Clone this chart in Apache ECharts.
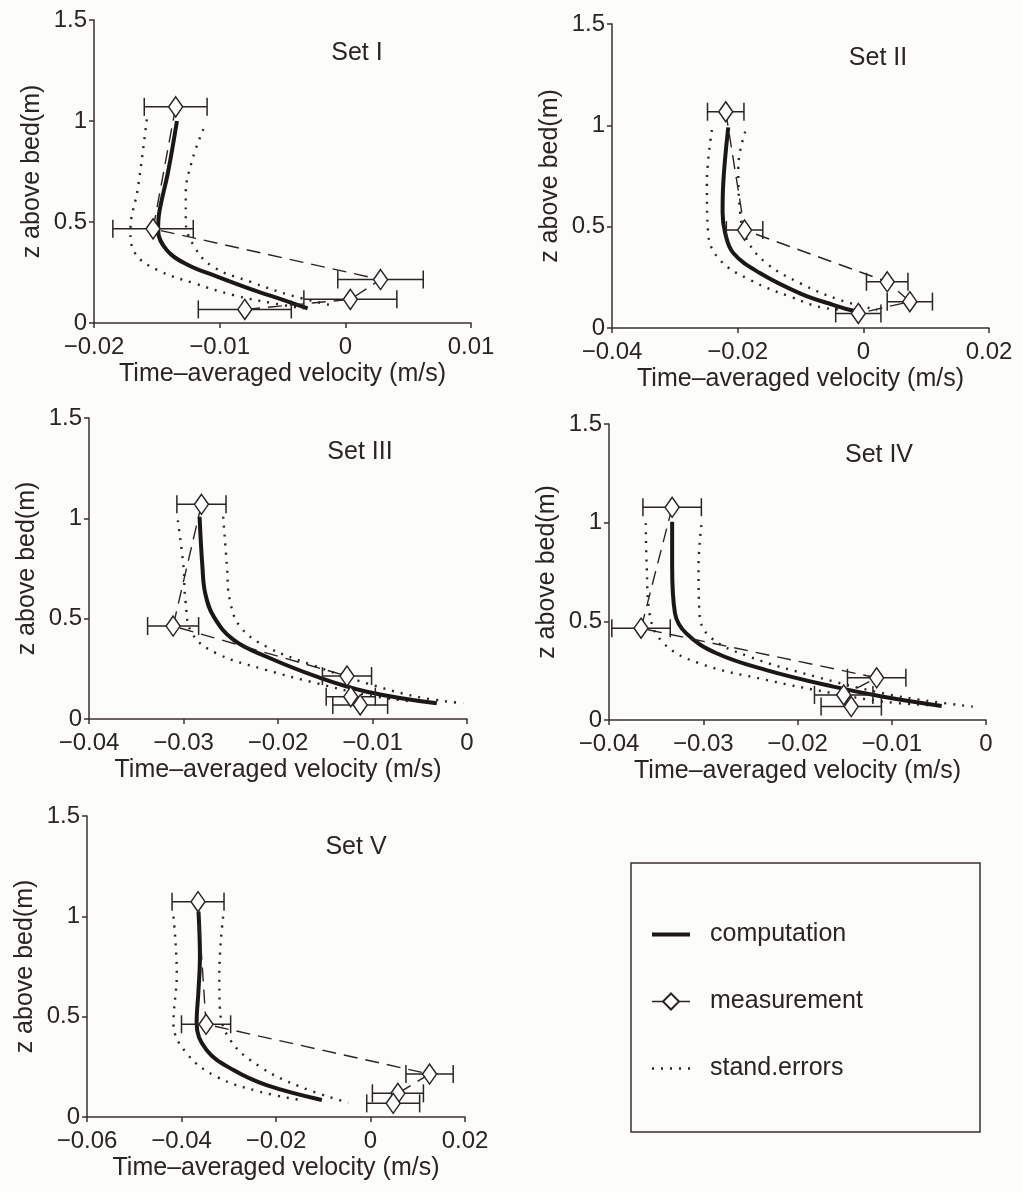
<!DOCTYPE html>
<html>
<head>
<meta charset="utf-8">
<title>Velocity profiles</title>
<script src="https://cdn.jsdelivr.net/npm/echarts@6.0.0/dist/echarts.min.js"></script>
<style>
  html, body { margin: 0; padding: 0; background: #fcfcfa; }
  #chart { width: 1023px; height: 1192px; }
</style>
</head>
<body>
<div id="chart"></div>
<script>
// values, each point is [velocity (m/s), z above bed (m)]
const zTicks = [0, 0.5, 1, 1.5];

// Set I
const set1Ticks = [-0.02, -0.01, 0, 0.01];
const set1Meas = [[-0.0135, 1.07], [-0.0153, 0.466], [0.0028, 0.215], [0.0004, 0.117], [-0.0080, 0.067]];
const set1Err = [0.0025, 0.0032, 0.0034, 0.0037, 0.0037];
const set1Comp = [[-0.0134, 1.0], [-0.0141, 0.75], [-0.0148, 0.55], [-0.0149, 0.46], [-0.0142, 0.36], [-0.0126, 0.29], [-0.0102, 0.23], [-0.0073, 0.163], [-0.0049, 0.113], [-0.0030, 0.072]];
const set1Lower = [[-0.0158, 1.008], [-0.0165, 0.671], [-0.0171, 0.458], [-0.0167, 0.343], [-0.0149, 0.261], [-0.0120, 0.196], [-0.0089, 0.138], [-0.0057, 0.097], [-0.0033, 0.072]];
const set1Upper = [[-0.0113, 0.96], [-0.0122, 0.803], [-0.0127, 0.639], [-0.0127, 0.507], [-0.0120, 0.376], [-0.0105, 0.277], [-0.0075, 0.203], [-0.0044, 0.138], [-0.0012, 0.089]];

// Set II
const set2Ticks = [-0.04, -0.02, 0, 0.02];
const set2Meas = [[-0.0219, 1.067], [-0.0189, 0.483], [0.0038, 0.228], [0.0074, 0.130], [-0.0008, 0.072]];
const set2Err = [0.0029, 0.0029, 0.0033, 0.0036, 0.0036];
const set2Comp = [[-0.0215, 0.99], [-0.0223, 0.71], [-0.0224, 0.57], [-0.0220, 0.47], [-0.0207, 0.37], [-0.0164, 0.27], [-0.0100, 0.17], [-0.0047, 0.113], [-0.0010, 0.080]];
const set2Lower = [[-0.0241, 0.977], [-0.0249, 0.714], [-0.0247, 0.467], [-0.0228, 0.335], [-0.0180, 0.237], [-0.0116, 0.154], [-0.0058, 0.097], [-0.0005, 0.088]];
const set2Upper = [[-0.0188, 0.969], [-0.0199, 0.796], [-0.0196, 0.566], [-0.0185, 0.434], [-0.0154, 0.319], [-0.0100, 0.22], [-0.0037, 0.138], [0.0022, 0.089]];

// Set III
const set3Ticks = [-0.04, -0.03, -0.02, -0.01, 0];
const set3Meas = [[-0.0281, 1.070], [-0.0311, 0.463], [-0.0127, 0.214], [-0.0123, 0.111], [-0.0113, 0.070]];
const set3Err = [0.0026, 0.0027, 0.0026, 0.0026, 0.0029];
const set3Comp = [[-0.0283, 1.008], [-0.0280, 0.76], [-0.0277, 0.626], [-0.0268, 0.51], [-0.0247, 0.394], [-0.0212, 0.31], [-0.0159, 0.211], [-0.0106, 0.136], [-0.0032, 0.078]];
const set3Lower = [[-0.0306, 0.99], [-0.0300, 0.76], [-0.0298, 0.593], [-0.0291, 0.427], [-0.0265, 0.327], [-0.0212, 0.244], [-0.0159, 0.178], [-0.0106, 0.12], [-0.0057, 0.086]];
const set3Upper = [[-0.0258, 1.008], [-0.0254, 0.759], [-0.0251, 0.593], [-0.0240, 0.46], [-0.0212, 0.36], [-0.0159, 0.261], [-0.0106, 0.178], [-0.0053, 0.111], [-0.0004, 0.078]];

// Set IV
const set4Ticks = [-0.04, -0.03, -0.02, -0.01, 0];
const set4Meas = [[-0.0333, 1.078], [-0.0366, 0.465], [-0.0116, 0.214], [-0.0151, 0.127], [-0.0143, 0.068]];
const set4Err = [0.0031, 0.0031, 0.0031, 0.0031, 0.0032];
const set4Comp = [[-0.0333, 1.005], [-0.0333, 0.777], [-0.0330, 0.541], [-0.0318, 0.439], [-0.0286, 0.338], [-0.0233, 0.253], [-0.0162, 0.169], [-0.0109, 0.118], [-0.0047, 0.071]];
const set4Lower = [[-0.0361, 0.997], [-0.0360, 0.777], [-0.0357, 0.541], [-0.0342, 0.389], [-0.0304, 0.287], [-0.0233, 0.203], [-0.0162, 0.135], [-0.0109, 0.093], [-0.0060, 0.075]];
const set4Upper = [[-0.0302, 0.988], [-0.0305, 0.777], [-0.0304, 0.541], [-0.0293, 0.422], [-0.0251, 0.321], [-0.0180, 0.219], [-0.0109, 0.135], [-0.0056, 0.093], [-0.0014, 0.068]];

// Set V
const set5Ticks = [-0.06, -0.04, -0.02, 0, 0.02];
const set5Meas = [[-0.0365, 1.073], [-0.0348, 0.462], [0.0125, 0.214], [0.0058, 0.118], [0.0048, 0.068]];
const set5Err = [0.0055, 0.0052, 0.0050, 0.0054, 0.0056];
const set5Comp = [[-0.0364, 1.023], [-0.0361, 0.80], [-0.0364, 0.633], [-0.0368, 0.467], [-0.0347, 0.334], [-0.0290, 0.234], [-0.0220, 0.159], [-0.0103, 0.085]];
const set5Lower = [[-0.0417, 0.998], [-0.0410, 0.716], [-0.0417, 0.467], [-0.0389, 0.317], [-0.0326, 0.201], [-0.0234, 0.126], [-0.0149, 0.085]];
const set5Upper = [[-0.0312, 0.998], [-0.0320, 0.716], [-0.0319, 0.55], [-0.0297, 0.384], [-0.0234, 0.251], [-0.0149, 0.151], [-0.0047, 0.071]];

const ink = '#2a2424';
const axisInk = '#3a302d';
const font = 'Liberation Sans, Arial, sans-serif';

const panels = [
  { title: 'Set I',   ticks: set1Ticks, meas: set1Meas, err: set1Err, comp: set1Comp, lower: set1Lower, upper: set1Upper,
    grid: { left: 94, top: 20, width: 377, height: 303 }, titlePos: [357, 53] },
  { title: 'Set II',  ticks: set2Ticks, meas: set2Meas, err: set2Err, comp: set2Comp, lower: set2Lower, upper: set2Upper,
    grid: { left: 612, top: 24, width: 377, height: 304 }, titlePos: [878, 58] },
  { title: 'Set III', ticks: set3Ticks, meas: set3Meas, err: set3Err, comp: set3Comp, lower: set3Lower, upper: set3Upper,
    grid: { left: 89, top: 418, width: 378, height: 301 }, titlePos: [360, 452] },
  { title: 'Set IV',  ticks: set4Ticks, meas: set4Meas, err: set4Err, comp: set4Comp, lower: set4Lower, upper: set4Upper,
    grid: { left: 609, top: 424, width: 377, height: 296 }, titlePos: [879, 455] },
  { title: 'Set V',   ticks: set5Ticks, meas: set5Meas, err: set5Err, comp: set5Comp, lower: set5Lower, upper: set5Upper,
    grid: { left: 87, top: 816, width: 378, height: 301 }, titlePos: [356, 847] }
];

function fmtTick(v) {
  if (Math.abs(v) < 1e-9) return '0';
  return String(+v.toFixed(2)).replace('-', '\u2212');
}

// horizontal error bar with end caps
function renderErrorBar(params, api) {
  const v = api.value(0), z = api.value(1), e = api.value(2);
  const lo = api.coord([v - e, z]);
  const hi = api.coord([v + e, z]);
  const h = 9;
  const style = { stroke: ink, lineWidth: 1.5 };
  return {
    type: 'group',
    children: [
      { type: 'line', shape: { x1: lo[0], y1: lo[1], x2: hi[0], y2: hi[1] }, style: style },
      { type: 'line', shape: { x1: lo[0], y1: lo[1] - h, x2: lo[0], y2: lo[1] + h }, style: style },
      { type: 'line', shape: { x1: hi[0], y1: hi[1] - h, x2: hi[0], y2: hi[1] + h }, style: style }
    ]
  };
}

const grids = [], xAxes = [], yAxes = [], series = [], graphics = [];

panels.forEach(function (p, i) {
  grids.push(p.grid);
  const step = +(p.ticks[1] - p.ticks[0]).toFixed(4);
  xAxes.push({
    type: 'value', gridIndex: i,
    min: p.ticks[0], max: p.ticks[p.ticks.length - 1], interval: step,
    name: 'Time\u2013averaged velocity (m/s)', nameLocation: 'middle', nameGap: 39,
    nameTextStyle: { fontSize: 25, color: ink, fontFamily: font },
    axisLine: { onZero: false, lineStyle: { color: axisInk, width: 1.5 } },
    axisTick: { length: 5, lineStyle: { color: axisInk, width: 1.5 } },
    axisLabel: { fontSize: 24, color: ink, fontFamily: font, margin: 12, formatter: fmtTick },
    splitLine: { show: false }
  });
  yAxes.push({
    type: 'value', gridIndex: i,
    min: zTicks[0], max: zTicks[zTicks.length - 1], interval: zTicks[1] - zTicks[0],
    name: 'z above bed(m)', nameLocation: 'middle', nameGap: 49,
    nameTextStyle: { fontSize: 25, color: ink, fontFamily: font },
    axisLine: { onZero: false, lineStyle: { color: axisInk, width: 1.5 } },
    axisTick: { length: 5, lineStyle: { color: axisInk, width: 1.5 } },
    axisLabel: { fontSize: 24, color: ink, fontFamily: font, margin: 7, formatter: function (v) { return String(v); } },
    splitLine: { show: false }
  });

  [p.lower, p.upper].forEach(function (band) {
    series.push({
      type: 'line', name: 'stand.errors', xAxisIndex: i, yAxisIndex: i,
      data: band, symbol: 'none', smooth: 0.4, z: 2,
      itemStyle: { color: ink },
      lineStyle: { color: ink, width: 2.4, type: [2, 7] }
    });
  });

  series.push({
    type: 'line', name: 'computation', xAxisIndex: i, yAxisIndex: i,
    data: p.comp, symbol: 'none', smooth: 0.4, z: 3,
    itemStyle: { color: '#1b1717' },
    lineStyle: { color: '#1b1717', width: 4 }
  });

  series.push({
    type: 'custom', name: 'error bars', xAxisIndex: i, yAxisIndex: i,
    data: p.meas.map(function (m, k) { return [m[0], m[1], p.err[k]]; }),
    encode: { x: 0, y: 1 }, renderItem: renderErrorBar, z: 4
  });

  series.push({
    type: 'line', name: 'measurement', xAxisIndex: i, yAxisIndex: i,
    data: p.meas, symbol: 'diamond', symbolSize: [14, 20], z: 5,
    itemStyle: { color: '#ffffff', borderColor: ink, borderWidth: 1.5 },
    lineStyle: { color: ink, width: 1.4, type: [14, 8] }
  });

  graphics.push({
    type: 'text', x: p.titlePos[0], y: p.titlePos[1],
    style: { text: p.title, fill: ink, font: '25px ' + font, align: 'center', verticalAlign: 'middle' }
  });
});

// legend frame
graphics.push({
  type: 'rect', shape: { x: 631, y: 863, width: 349, height: 269 },
  style: { fill: 'none', stroke: axisInk, lineWidth: 1.5 }
});

const chart = echarts.init(document.getElementById('chart'));
chart.setOption({
  backgroundColor: '#fcfcfa',
  animation: false,
  grid: grids,
  xAxis: xAxes,
  yAxis: yAxes,
  legend: {
    orient: 'vertical', left: 645, top: 917,
    itemWidth: 38, itemHeight: 20, itemGap: 42,
    selectedMode: false,
    data: [
      { name: 'computation', itemStyle: { opacity: 0 }, lineStyle: { width: 4 } },
      { name: 'measurement', lineStyle: { type: 'solid', width: 1.5 } },
      { name: 'stand.errors', itemStyle: { opacity: 0 }, lineStyle: { width: 2.4 } }
    ],
    textStyle: { fontSize: 25, color: ink, fontFamily: font, padding: [0, 0, 0, 15] }
  },
  graphic: graphics,
  series: series
});
</script>
</body>
</html>
